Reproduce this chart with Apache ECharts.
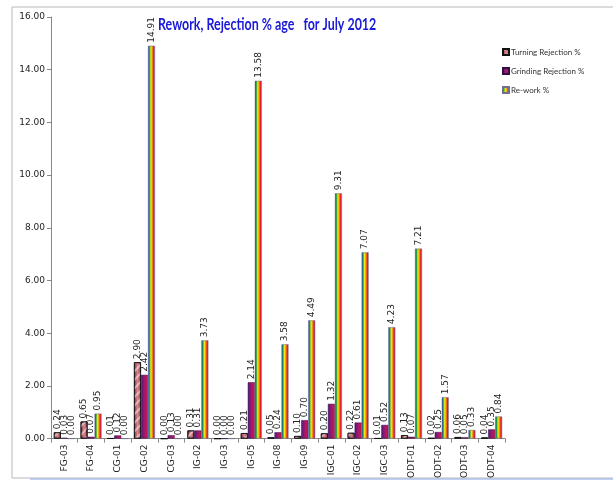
<!DOCTYPE html>
<html>
<head>
<meta charset="utf-8">
<script src="https://cdn.jsdelivr.net/npm/echarts@6/dist/echarts.min.js"></script>
<style>html,body{margin:0;padding:0;background:#fff}#c{width:613px;height:481px}</style>
</head>
<body>
<div id="c"></div>
<script>
const categories = ['FG-03','FG-04','CG-01','CG-02','CG-03','IG-02','IG-03','IG-05','IG-08','IG-09','IGC-01','IGC-02','IGC-03','ODT-01','ODT-02','ODT-03','ODT-04'];
const turningRejection = [0.24,0.65,0.01,2.90,0.00,0.31,0.00,0.21,0.05,0.10,0.20,0.22,0.01,0.13,0.02,0.06,0.04];
const grindingRejection = [0.03,0.07,0.12,2.42,0.13,0.31,0.00,2.14,0.24,0.70,1.32,0.61,0.52,0.07,0.25,0.05,0.35];
const rework = [0.00,0.95,0.00,14.91,0.00,3.73,0.00,13.58,3.58,4.49,9.31,7.07,4.23,7.21,1.57,0.33,0.84];
const yTicks = [0,2,4,6,8,10,12,14,16];
const titleText = 'Rework, Rejection % age   for July 2012';

const chart = echarts.init(document.getElementById('c'));
const G = echarts.graphic.LinearGradient;
const turningFill = new G(0,0,1,0,[{offset:0,color:'#7a2a35'},{offset:0.5,color:'#d88890'},{offset:1,color:'#a03848'}]);
const grindingFill = new G(0,0,1,0,[{offset:0,color:'#4a1a80'},{offset:0.5,color:'#a01870'},{offset:1,color:'#e01040'}]);
const reworkFill = new G(0,0,1,0,[{offset:0,color:'#1028d0'},{offset:0.2,color:'#1a9a50'},{offset:0.42,color:'#f2ef10'},{offset:0.62,color:'#f59010'},{offset:0.82,color:'#e41530'},{offset:1,color:'#a03878'}]);

const lbl = {show:true,position:'top',rotate:90,align:'left',verticalAlign:'middle',distance:3,
  fontFamily:'DejaVu Sans',fontSize:9,color:'#222',formatter:p=>p.value.toFixed(2)};

chart.setOption({
  animation:false,
  backgroundColor:'#fff',
  legend:{orient:'vertical',left:497,top:43,itemWidth:6,itemHeight:6,itemGap:11,icon:'rect',
    textStyle:{fontSize:8,color:'#333',fontFamily:'Lato',padding:[0,0,0,-3]},
    data:['Turning Rejection %','Grinding Rejection %','Re-work %']},
  graphic:[{type:'rect',shape:{x:12,y:7,width:640,height:471},style:{fill:'none',stroke:'#b8b8b8',lineWidth:1},silent:true},
           {type:'line',shape:{x1:30,y1:479,x2:613,y2:479},style:{stroke:'#a8c0e8',lineWidth:1.5},silent:true},
           {type:'text',x:158,y:25,scaleX:0.83,scaleY:1.08,silent:true,
            style:{text:titleText,fill:'#1a1ad8',font:'bold 15px Lato',textVerticalAlign:'middle',textAlign:'left'}}],
  grid:{left:51,right:108,top:17,bottom:41},
  xAxis:{type:'category',data:categories,
    axisLine:{lineStyle:{color:'#888'}},
    axisTick:{show:true,length:4,lineStyle:{color:'#888'}},
    axisLabel:{rotate:90,fontSize:9,color:'#222',fontFamily:'DejaVu Sans',margin:6}},
  yAxis:{type:'value',min:0,max:16,interval:2,
    axisLine:{show:true,lineStyle:{color:'#888'}},
    axisTick:{show:true,length:4,lineStyle:{color:'#888'}},
    splitLine:{show:false},
    axisLabel:{fontSize:9,color:'#222',fontFamily:'DejaVu Sans',margin:6,formatter:v=>v.toFixed(2)}},
  series:[
    {name:'Turning Rejection %',type:'bar',data:turningRejection,barWidth:7,barGap:'0%',
      itemStyle:{color:turningFill,borderColor:'#111',borderWidth:0.8,
        decal:{symbol:'rect',symbolSize:1,dashArrayX:[1,0],dashArrayY:[1.5,3.5],rotation:-0.8,color:'rgba(255,230,230,0.55)'}},
      label:lbl},
    {name:'Grinding Rejection %',type:'bar',data:grindingRejection,barWidth:7,barGap:'0%',
      itemStyle:{color:grindingFill,borderColor:'#301040',borderWidth:0.5},label:lbl},
    {name:'Re-work %',type:'bar',data:rework,barWidth:7,barGap:'0%',
      itemStyle:{color:reworkFill,borderColor:'#707090',borderWidth:0.5},label:lbl}
  ]
});
</script>
</body>
</html>
